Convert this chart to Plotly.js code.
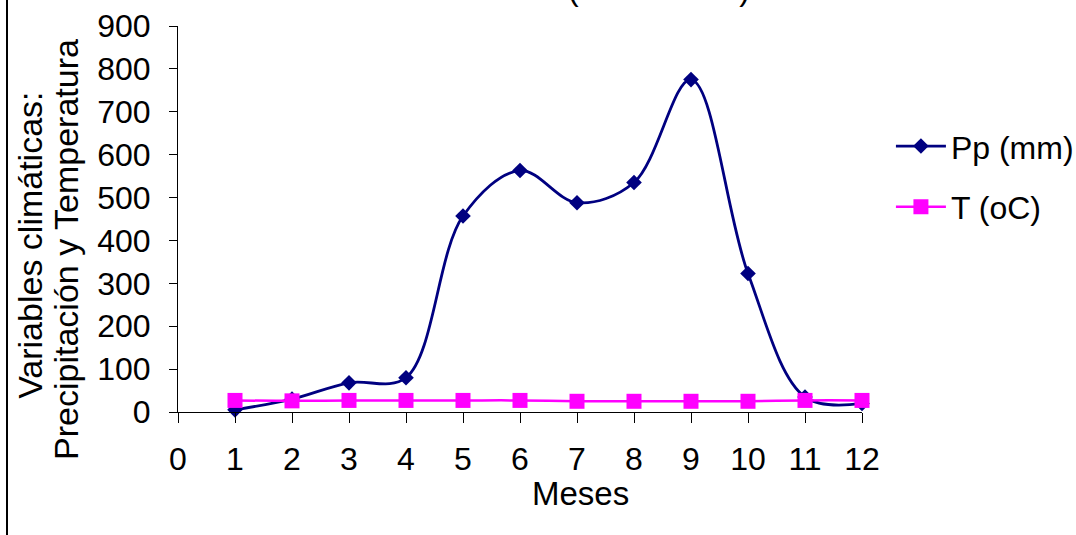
<!DOCTYPE html>
<html>
<head>
<meta charset="utf-8">
<script src="https://cdn.plot.ly/plotly-3.0.1.min.js"></script>
<style>
html,body{margin:0;padding:0;background:#fff;}
#chart{width:1076px;height:535px;}
</style>
</head>
<body>
<div id="chart"></div>
<script>
const months = [1,2,3,4,5,6,7,8,9,10,11,12];
const ppValues = [5,30,68,80,457,563,488,535,775,323,35,20];
const tValues = [27,26,27,27,27,27,25,25,25,25,27,27];
const seriesNames = ['Pp (mm)','T (oC)'];
const xTicks = [0,1,2,3,4,5,6,7,8,9,10,11,12];
const yTicks = [0,100,200,300,400,500,600,700,800,900];
const yTitleLines = ['Variables climáticas:', 'Precipitación y Temperatura'];
const xTitle = 'Meses';
const topTitle = '(T ºC month)';

const FONT = 'Liberation Sans, Arial, sans-serif';
const FS = 32;

const traces = [
  {
    x: months, y: ppValues, name: seriesNames[0], type: 'scatter', mode: 'lines+markers',
    line: {color: '#000080', width: 2.8, shape: 'spline', smoothing: 1},
    marker: {symbol: 'diamond', size: 12, color: '#000080'},
    legendgroup: 'a', cliponaxis: false
  },
  {
    x: months, y: tValues, name: seriesNames[1], type: 'scatter', mode: 'lines+markers',
    line: {color: '#FF00FF', width: 2.5, shape: 'spline', smoothing: 1},
    marker: {symbol: 'square', size: 15, color: '#FF00FF'},
    legendgroup: 'b', cliponaxis: false
  }
];

const layout = {
  width: 1076, height: 535,
  margin: {l: 178, r: 214, t: 26, b: 123},
  paper_bgcolor: '#fff', plot_bgcolor: '#fff',
  font: {family: FONT, size: FS, color: '#000'},
  showlegend: true,
  legend: {xref: 'container', yref: 'container', x: 0.828, y: 0.778,
           xanchor: 'left', yanchor: 'top', tracegroupgap: 16,
           itemwidth: 50, borderwidth: 0,
           font: {family: FONT, size: FS, color: '#000'}, bgcolor: 'rgba(0,0,0,0)'},
  xaxis: {
    range: [0, 12], tickvals: xTicks, ticktext: xTicks.map(String),
    showline: true, linecolor: '#000', linewidth: 1, showgrid: false, zeroline: false,
    ticks: 'outside', ticklen: 10, tickcolor: '#000', ticklabelstandoff: 9,
    tickfont: {family: FONT, size: FS, color: '#000'}
  },
  yaxis: {
    range: [0, 900], tickvals: yTicks, ticktext: yTicks.map(String),
    showline: true, linecolor: '#000', linewidth: 1, showgrid: false, zeroline: false,
    ticks: 'outside', ticklen: 8, tickcolor: '#000', ticklabelstandoff: 12,
    tickfont: {family: FONT, size: FS, color: '#000'}
  },
  annotations: [
    {text: yTitleLines[0], textangle: -90,
     xref: 'paper', yref: 'paper', x: -0.2164, y: 0.433, xanchor: 'center', yanchor: 'middle',
     showarrow: false, font: {family: FONT, size: 34, color: '#000'}},
    {text: yTitleLines[1], textangle: -90,
     xref: 'paper', yref: 'paper', x: -0.1637, y: 0.42, xanchor: 'center', yanchor: 'middle',
     showarrow: false, font: {family: FONT, size: 34, color: '#000'}},
    {text: xTitle, xref: 'paper', yref: 'paper', x: 0.588, y: -0.2124,
     xanchor: 'center', yanchor: 'middle', showarrow: false,
     font: {family: FONT, size: 33, color: '#000'}},
    {text: topTitle, xref: 'paper', yref: 'paper', x: 0.703, y: 1.044,
     xanchor: 'center', yanchor: 'bottom', showarrow: false,
     font: {family: FONT, size: FS, color: '#000'}}
  ],
  shapes: [
    {type: 'line', xref: 'paper', yref: 'paper', x0: -0.25, x1: -0.25, y0: -0.33, y1: 1.08,
     line: {color: '#000', width: 2}}
  ]
};

Plotly.newPlot('chart', traces, layout, {displayModeBar: false, staticPlot: true});
</script>
</body>
</html>
